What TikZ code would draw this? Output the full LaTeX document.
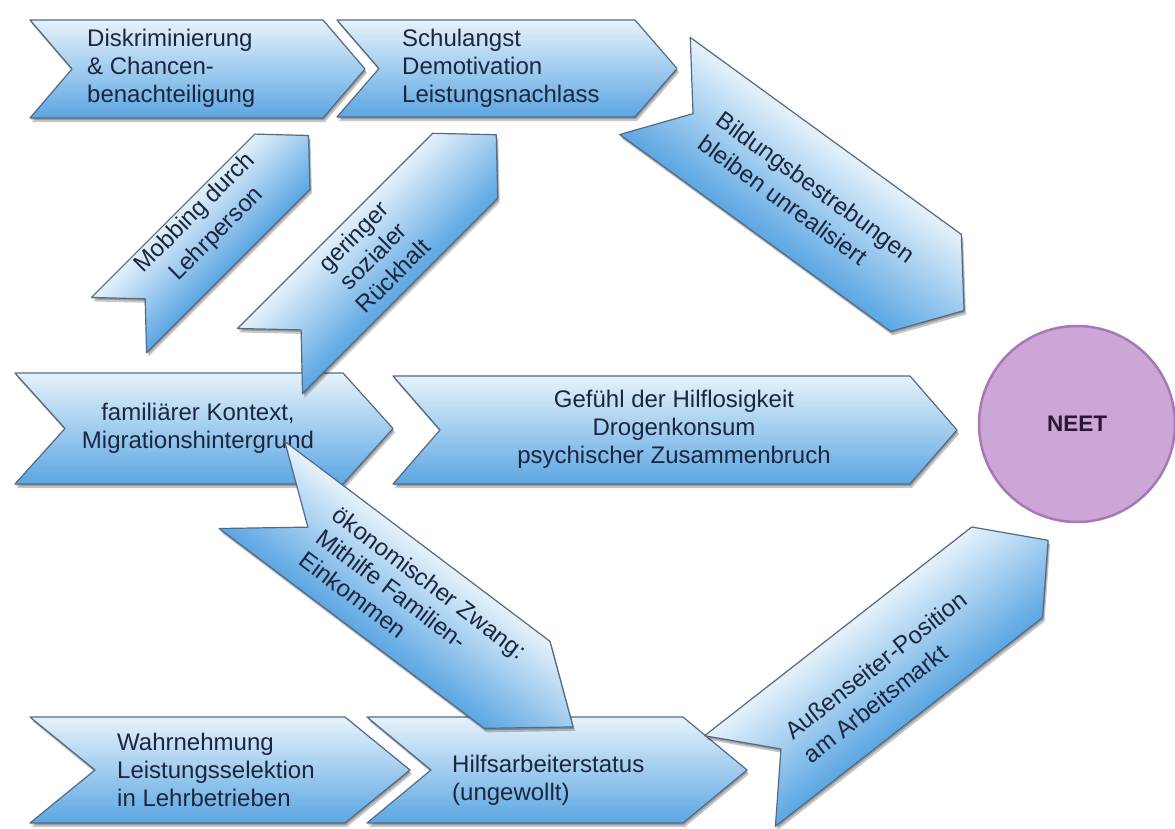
\documentclass[tikz,border=0pt]{standalone}
\usepackage{fontspec}
\setmainfont{Liberation Sans}

\definecolor{chevtop}{RGB}{230,242,251}
\definecolor{chevbot}{RGB}{94,168,227}
\definecolor{chevline}{RGB}{82,106,134}
\definecolor{labelink}{RGB}{28,38,62}
\definecolor{neetfill}{RGB}{203,166,214}
\definecolor{neetline}{RGB}{166,120,182}
\definecolor{neetink}{RGB}{40,24,52}

\tikzset{
  x=1pt, y=-1pt,
  chevedge/.style={draw=chevline, line width=1.2pt, line join=round},
  chevshadow/.style={fill=black, opacity=0.22},
  chevtext/.style={text=labelink, font=\fontsize{24}{28}\selectfont, inner sep=0pt},
  chevtextwide/.style={text=labelink, font=\fontsize{24}{30}\selectfont, inner sep=0pt},
}

% chevron arrow: back-middle x, y, angle, length (back to tip), height, notch/tip depth
% the fill is a gradient across the arrow, built from thin strips clipped to the outline
\newcommand{\chevron}[6]{%
  \pgfmathsetmacro\hh{#5/2}%
  \pgfmathsetmacro\fx{#4-#6}%
  \begin{scope}[shift={(#1+2,#2+4)}, rotate=#3]
    \fill[chevshadow] (0,-\hh) -- (\fx,-\hh) -- (#4,0) -- (\fx,\hh) -- (0,\hh) -- (#6,0) -- cycle;
  \end{scope}
  \begin{scope}[shift={(#1+1,#2+2)}, rotate=#3]
    \fill[chevshadow] (0,-\hh) -- (\fx,-\hh) -- (#4,0) -- (\fx,\hh) -- (0,\hh) -- (#6,0) -- cycle;
  \end{scope}
  \begin{scope}[shift={(#1,#2)}, rotate=#3]
    \begin{scope}
      \clip (0,-\hh) -- (\fx,-\hh) -- (#4,0) -- (\fx,\hh) -- (0,\hh) -- (#6,0) -- cycle;
      \foreach \k in {0,...,47} {
        \pgfmathsetmacro\mixval{\k*100/47}
        \fill[chevbot!\mixval!chevtop]
          (-2,{-\hh+\k*#5/48-0.7}) rectangle (#4+2,{-\hh+(\k+1)*#5/48+0.7});
      }
    \end{scope}
    \path[chevedge] (0,-\hh) -- (\fx,-\hh) -- (#4,0) -- (\fx,\hh) -- (0,\hh) -- (#6,0) -- cycle;
  \end{scope}}

\begin{document}
\begin{tikzpicture}
  \fill[white, use as bounding box] (0,0) rectangle (1175,828);

  % top row
  \chevron{30}{69}{0}{335}{98}{42}
  \node[chevtext, align=left, anchor=west] (diskr) at (87,68.5)
    {Diskriminierung\\\& Chancen-\\benachteiligung};

  \chevron{337}{68.5}{0}{340}{97}{42}
  \node[chevtext, align=left, anchor=west] (schule) at (402,68.5)
    {Schulangst\\Demotivation\\Leistungsnachlass};

  \chevron{655}{86}{-36}{382}{120}{47}
  \node[chevtextwide, align=left, rotate=-36] (bildung) at (807,199)
    {Bildungsbestrebungen\\bleiben unrealisiert};

  % middle row
  \chevron{15}{428.5}{0}{378}{111}{50}
  \node[chevtext, align=center] (familie) at (198,428)
    {familiärer Kontext,\\Migrationshintergrund};

  \chevron{393}{430}{0}{564}{108}{47}
  \node[chevtext, align=center] (hilflos) at (674,429)
    {Gefühl der Hilflosigkeit\\Drogenkonsum\\psychischer Zusammenbruch};

  % rising arrows from the family context
  \chevron{119}{325}{45}{268}{78}{37}
  \node[chevtextwide, align=center, rotate=45] (mobbing) at (206,224)
    {Mobbing durch\\Lehrperson};

  \chevron{270}{361}{45}{320}{92}{44}
  \node[chevtext, align=center, rotate=45] (rueckhalt) at (373,256)
    {geringer\\sozialer\\Rückhalt};

  % bottom row
  \chevron{30}{770}{0}{380}{106}{65}
  \node[chevtext, align=left, anchor=west] (wahrnehmung) at (117,770)
    {Wahrnehmung\\Leistungsselektion\\in Lehrbetrieben};

  \chevron{367}{770}{0}{380}{106}{64}
  \node[chevtext, align=left, anchor=west] (hilfsarbeit) at (452,780)
    {Hilfsarbeiterstatus\\(ungewollt)};

  \chevron{252}{485}{-37}{402}{109}{70}
  \node[chevtext, align=left, rotate=-37] (zwang) at (413,605)
    {ökonomischer Zwang:\\Mithilfe Familien-\\Einkommen};

  \chevron{740}{781}{38}{391}{115}{52}
  \node[chevtextwide, align=left, rotate=38] (aussen) at (885,677)
    {Außenseiter-Position\\am Arbeitsmarkt};

  % outcome
  \node[circle, draw=neetline, line width=2.5pt, fill=neetfill,
        minimum size=196pt, inner sep=0pt, text=neetink,
        font=\bfseries\fontsize{22.5}{26}\selectfont] (neet) at (1077,424) {NEET};
\end{tikzpicture}
\end{document}
